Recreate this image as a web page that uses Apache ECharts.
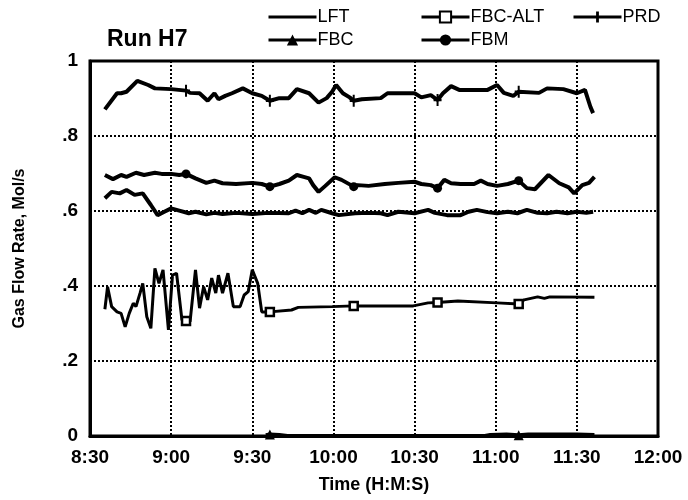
<!DOCTYPE html>
<html>
<head>
<meta charset="utf-8">
<script src="https://cdn.jsdelivr.net/npm/echarts@6/dist/echarts.min.js"></script>
<style>
  html, body { margin: 0; padding: 0; background: #fff; }
  #chart { width: 688px; height: 500px; }
</style>
</head>
<body>
<div id="chart"></div>
<script>
// time is minutes after midnight, value in Mol/s
var xTickLabels = ['8:30', '9:00', '9:30', '10:00', '10:30', '11:00', '11:30', '12:00']
var yTickLabels = ['0', '.2', '.4', '.6', '.8', '1']

var lft = [
  [515.5, 0.634], [518, 0.651], [521, 0.647], [523.5, 0.656], [526.5, 0.643], [529.5, 0.647],
  [532.5, 0.616], [535, 0.589], [537.5, 0.598], [540, 0.607], [543, 0.601], [546.5, 0.594],
  [549, 0.598], [553, 0.591], [556, 0.595], [559, 0.592], [564, 0.595], [570, 0.592],
  [576, 0.595], [583.5, 0.594], [586, 0.601], [588.5, 0.594], [591, 0.603], [593.5, 0.595],
  [595.5, 0.603], [599.5, 0.594], [602, 0.589], [608, 0.594], [613, 0.595], [617.5, 0.594],
  [620, 0.589], [624, 0.598], [630, 0.594], [635, 0.603], [637.5, 0.595], [642, 0.589],
  [647, 0.589], [650, 0.598], [653, 0.603], [657, 0.597], [660.5, 0.594], [664.5, 0.598],
  [668, 0.594], [671.5, 0.603], [675.5, 0.595], [679, 0.594], [682.5, 0.598], [686.5, 0.594],
  [690, 0.598], [693.5, 0.595], [696, 0.598]
]

var fbcAlt = [
  [515.5, 0.338], [516.5, 0.398], [518, 0.345], [520, 0.331], [521.5, 0.327], [523, 0.291],
  [524.5, 0.327], [526, 0.354], [527, 0.345], [528.5, 0.381], [529.5, 0.407], [531, 0.318],
  [532.5, 0.287], [534, 0.447], [535.5, 0.407], [537, 0.443], [539, 0.283], [540.5, 0.429],
  [542, 0.434], [544, 0.309], [545.5, 0.307], [547, 0.305], [549, 0.443], [550.5, 0.341],
  [552, 0.398], [553.5, 0.363], [555, 0.421], [556.5, 0.381], [557.5, 0.429], [559, 0.381],
  [561, 0.434], [563, 0.345], [565.5, 0.345], [567, 0.376], [568.5, 0.385], [570, 0.443],
  [572, 0.407], [573.5, 0.331], [576.5, 0.331], [584.5, 0.336], [587, 0.343], [599.5, 0.345],
  [607.5, 0.347], [629.5, 0.347], [635, 0.355], [638.5, 0.356], [646, 0.36], [660.5, 0.355],
  [668.5, 0.352], [670.5, 0.363], [675.5, 0.371], [678, 0.367], [680, 0.371], [696.5, 0.37]
]

var prd = [
  [515.5, 0.871], [520, 0.914], [521.5, 0.914], [523.5, 0.918], [527.5, 0.947], [531.5, 0.936],
  [534, 0.927], [540, 0.925], [545.5, 0.921], [547, 0.915], [550.5, 0.914], [553.5, 0.894],
  [556, 0.914], [557.5, 0.898], [560, 0.907], [562.5, 0.914], [566.5, 0.927], [570, 0.914],
  [573.5, 0.907], [576.5, 0.894], [580, 0.901], [583.5, 0.901], [586.5, 0.925], [591, 0.914],
  [594.5, 0.889], [597.5, 0.901], [599.5, 0.918], [601, 0.936], [603.5, 0.914], [606, 0.903],
  [607.5, 0.894], [610.5, 0.898], [617.5, 0.901], [620, 0.914], [630, 0.914], [632.5, 0.903],
  [636, 0.909], [638.5, 0.896], [640.5, 0.914], [643.5, 0.933], [646.5, 0.923], [657, 0.923],
  [660.5, 0.936], [663, 0.915], [666.5, 0.907], [668.5, 0.918], [676, 0.915], [679, 0.927],
  [685, 0.925], [690, 0.914], [693, 0.923], [695, 0.878], [696, 0.861]
]

var fbc = [
  [575, 0.002], [576.5, 0.004], [580, 0.003], [583, 0], [656, 0], [658, 0.003],
  [664, 0.004], [668.5, 0.002], [672, 0.004], [690, 0.004], [696.5, 0.003]
]

var fbm = [
  [515.5, 0.696], [518.5, 0.685], [521.5, 0.696], [523.5, 0.691], [527, 0.702], [530, 0.696],
  [534, 0.702], [536.5, 0.699], [540, 0.699], [543, 0.696], [545.5, 0.699], [549, 0.687],
  [553, 0.675], [556, 0.681], [559, 0.674], [564, 0.672], [570, 0.675], [573.5, 0.672],
  [576.5, 0.665], [580, 0.672], [583.5, 0.681], [586.5, 0.696], [589, 0.691], [591, 0.687],
  [592.5, 0.669], [594.5, 0.651], [597, 0.667], [600.5, 0.69], [603, 0.683], [607.5, 0.665],
  [609, 0.669], [613, 0.667], [619, 0.672], [624, 0.675], [630, 0.678], [632.5, 0.672],
  [636, 0.669], [638.5, 0.661], [641, 0.683], [643.5, 0.674], [647, 0.672], [652, 0.672],
  [654.5, 0.681], [657, 0.672], [660.5, 0.667], [664.5, 0.672], [668.5, 0.681], [671.5, 0.661],
  [674.5, 0.658], [679.5, 0.696], [683.5, 0.674], [687, 0.663], [689, 0.647], [692, 0.669],
  [694.5, 0.675], [696.5, 0.691]
]

// times where the plotter put a symbol on the line
var markTimes = [545.5, 576.5, 607.5, 638.5, 668.5]
var fbcMarkTimes = [576.5, 668.5]

var font = "'Liberation Sans', Arial, Helvetica, sans-serif"

function withMarks(points, marks) {
  return points.map(function (p) {
    var hit = marks.some(function (m) { return Math.abs(m - p[0]) < 0.3 })
    return hit ? { value: p } : { value: p, symbol: 'none' }
  })
}

function lineSeries(name, data, symbol, size, fill, width) {
  return {
    name: name,
    type: 'line',
    data: data,
    symbol: symbol,
    symbolSize: size,
    showSymbol: true,
    showAllSymbol: true,
    clip: false,
    lineStyle: { color: '#000', width: width || 4 },
    itemStyle: { color: fill, borderColor: '#000', borderWidth: fill === '#fff' ? 2.5 : 0 },
    emphasis: { disabled: true }
  }
}

var chart = echarts.init(document.getElementById('chart'))
var legendBase = {
  orient: 'vertical',
  top: 3,
  itemWidth: 48,
  itemHeight: 14,
  itemGap: 5,
  selectedMode: false,
  lineStyle: { width: 3 },
  textStyle: { fontFamily: font, fontSize: 18, color: '#000', padding: [0, 0, 0, -4] }
}

// LFT has no symbol: keep a circle for the legend layout but make it invisible
var lftSeries = lineSeries('LFT', withMarks(lft, []), 'circle', 1, 'rgba(0,0,0,0)')

chart.setOption({
  animation: false,
  backgroundColor: '#fff',
  title: {
    text: 'Run H7',
    left: 102,
    top: 23,
    textStyle: { fontFamily: font, fontSize: 23, fontWeight: 'bold', color: '#000' }
  },
  legend: [
    Object.assign({ left: 262, data: ['LFT', 'FBC'] }, legendBase),
    Object.assign({ left: 415, data: ['FBC-ALT', 'FBM'] }, legendBase),
    Object.assign({ left: 567, data: ['PRD'] }, legendBase)
  ],
  grid: {
    left: 90,
    right: 30,
    top: 61,
    bottom: 64,
    show: true,
    borderColor: '#000',
    borderWidth: 3
  },
  xAxis: {
    type: 'value',
    min: 510,
    max: 720,
    interval: 30,
    name: 'Time (H:M:S)',
    nameLocation: 'middle',
    nameGap: 40,
    nameTextStyle: { fontFamily: font, fontSize: 18, fontWeight: 'bold', color: '#000' },
    axisLine: { show: true, lineStyle: { color: '#000', width: 3 } },
    axisTick: { show: false },
    axisLabel: {
      margin: 12,
      fontFamily: font,
      fontSize: 19,
      fontWeight: 'bold',
      color: '#000',
      formatter: function (v) { return xTickLabels[Math.round((v - 510) / 30)] }
    },
    splitLine: { show: true, lineStyle: { color: '#000', width: 2, type: [2, 2] } }
  },
  yAxis: {
    type: 'value',
    min: 0,
    max: 1,
    interval: 0.2,
    name: 'Gas Flow Rate, Mol/s',
    nameLocation: 'middle',
    nameGap: 62,
    nameTextStyle: { fontFamily: font, fontSize: 16, fontWeight: 'bold', color: '#000' },
    axisLine: { show: true, lineStyle: { color: '#000', width: 3 } },
    axisTick: { show: false },
    axisLabel: {
      margin: 12,
      fontFamily: font,
      fontSize: 19,
      fontWeight: 'bold',
      color: '#000',
      formatter: function (v) { return yTickLabels[Math.round(v / 0.2)] }
    },
    splitLine: { show: true, lineStyle: { color: '#000', width: 2, type: [2, 2] } }
  },
  series: [
    lftSeries,
    lineSeries('FBC-ALT', withMarks(fbcAlt, markTimes), 'rect', 8, '#fff', 3),
    lineSeries('PRD', withMarks(prd, markTimes), 'path://M4,0h2v4h3v2h-3v4h-2v-4h-3v-2h3z', [8, 12], '#000'),
    lineSeries('FBC', withMarks(fbc, fbcMarkTimes), 'triangle', 10, '#000'),
    lineSeries('FBM', withMarks(fbm, markTimes), 'circle', 9, '#000')
  ]
})
</script>
</body>
</html>
